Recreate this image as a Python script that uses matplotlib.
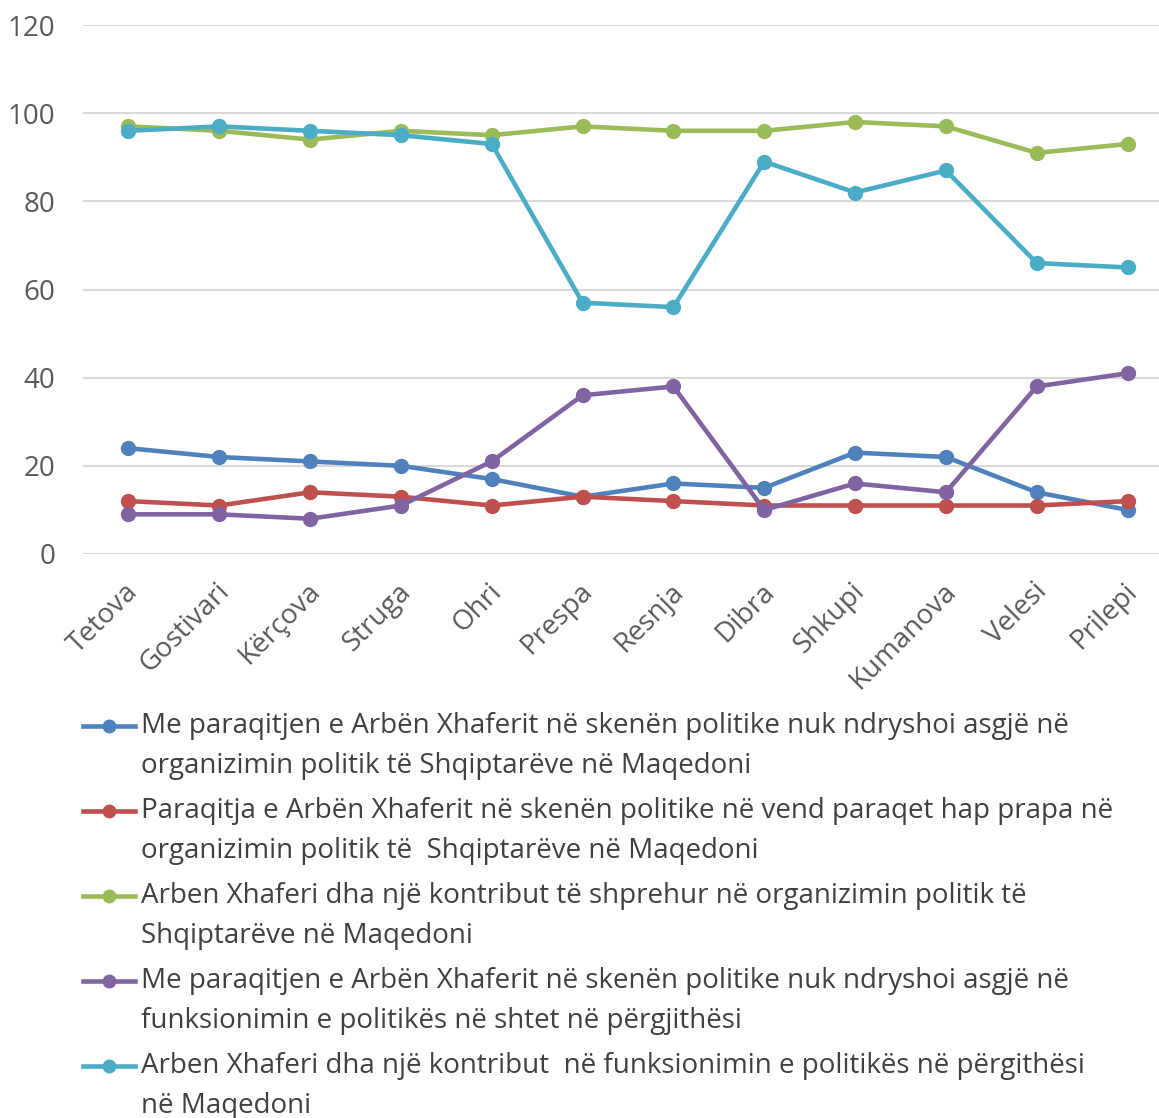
import matplotlib.pyplot as plt
import matplotlib.transforms as mtransforms
from matplotlib.lines import Line2D

plt.rcParams['font.family'] = ['Open Sans', 'DejaVu Sans']

# Qytetet
cities = ['Tetova', 'Gostivari', 'Kërçova', 'Struga', 'Ohri', 'Prespa',
          'Resnja', 'Dibra', 'Shkupi', 'Kumanova', 'Velesi', 'Prilepi']

# Vlerat e lexuara nga grafiku (%)
s_blue = [24, 22, 21, 20, 17, 13, 16, 15, 23, 22, 14, 10]
s_red = [12, 11, 14, 13, 11, 13, 12, 11, 11, 11, 11, 12]
s_green = [97, 96, 94, 96, 95, 97, 96, 96, 98, 97, 91, 93]
s_purple = [9, 9, 8, 11, 21, 36, 38, 10, 16, 14, 38, 41]
s_cyan = [96, 97, 96, 95, 93, 57, 56, 89, 82, 87, 66, 65]

labels = [
    ['Me paraqitjen e Arbën Xhaferit në skenën politike nuk ndryshoi asgjë në',
     'organizimin politik të Shqiptarëve në Maqedoni'],
    ['Paraqitja e Arbën Xhaferit në skenën politike në vend paraqet hap prapa në',
     'organizimin politik të  Shqiptarëve në Maqedoni'],
    ['Arben Xhaferi dha një kontribut të shprehur në organizimin politik të',
     'Shqiptarëve në Maqedoni'],
    ['Me paraqitjen e Arbën Xhaferit në skenën politike nuk ndryshoi asgjë në',
     'funksionimin e politikës në shtet në përgjithësi'],
    ['Arben Xhaferi dha një kontribut  në funksionimin e politikës në përgithësi',
     'në Maqedoni'],
]
colors = ['#4F81BD', '#C0504D', '#9BBB59', '#8064A2', '#4BACC6']
series = [s_blue, s_red, s_green, s_purple, s_cyan]

W, H = 1159, 1118
fig = plt.figure(figsize=(W / 100, H / 100), dpi=100)
ax = fig.add_axes([83 / W, (H - 554) / H, 1090 / W, (554 - 25) / H])

x = list(range(len(cities)))
for vals, col in zip(series, colors):
    ax.plot(x, vals, color=col, lw=3.3, marker='o', ms=10,
            solid_capstyle='round', clip_on=False)

ax.set_xlim(-0.5, len(cities) - 0.5)
ax.set_ylim(0, 120)
ax.set_yticks(range(0, 121, 20))
ax.yaxis.grid(True, color='#D9D9D9', lw=1.5)
ax.set_axisbelow(True)
for sp in ax.spines.values():
    sp.set_visible(False)
ax.tick_params(axis='both', length=0, colors='#595959', labelsize=20)
ax.tick_params(axis='y', pad=20)
ax.set_xticks(x)
ax.set_xticklabels(cities, rotation=45, ha='right', rotation_mode='anchor')
ax.tick_params(axis='x', pad=17)
shift = mtransforms.ScaledTranslation(-4 / 100, 0, fig.dpi_scale_trans)
for lbl in ax.get_xticklabels():
    lbl.set_transform(lbl.get_transform() + shift)

# legenda, e vizatuar me dore (pixel -> figure coords)
def fx(px):
    return px / W

def fy(py):
    return 1 - py / H

for i, (lab, col) in enumerate(zip(labels, colors)):
    y0 = 726 + 85 * i
    fig.add_artist(Line2D([fx(83), fx(135)], [fy(y0), fy(y0)], color=col, lw=3.3))
    fig.add_artist(Line2D([fx(109)], [fy(y0)], color=col, marker='o', ms=9))
    for j, line in enumerate(lab):
        fig.text(fx(141), fy(y0 + 40 * j), line, fontsize=20, color='#404040',
                 va='center', ha='left')

fig.savefig('out.png', dpi=100)
